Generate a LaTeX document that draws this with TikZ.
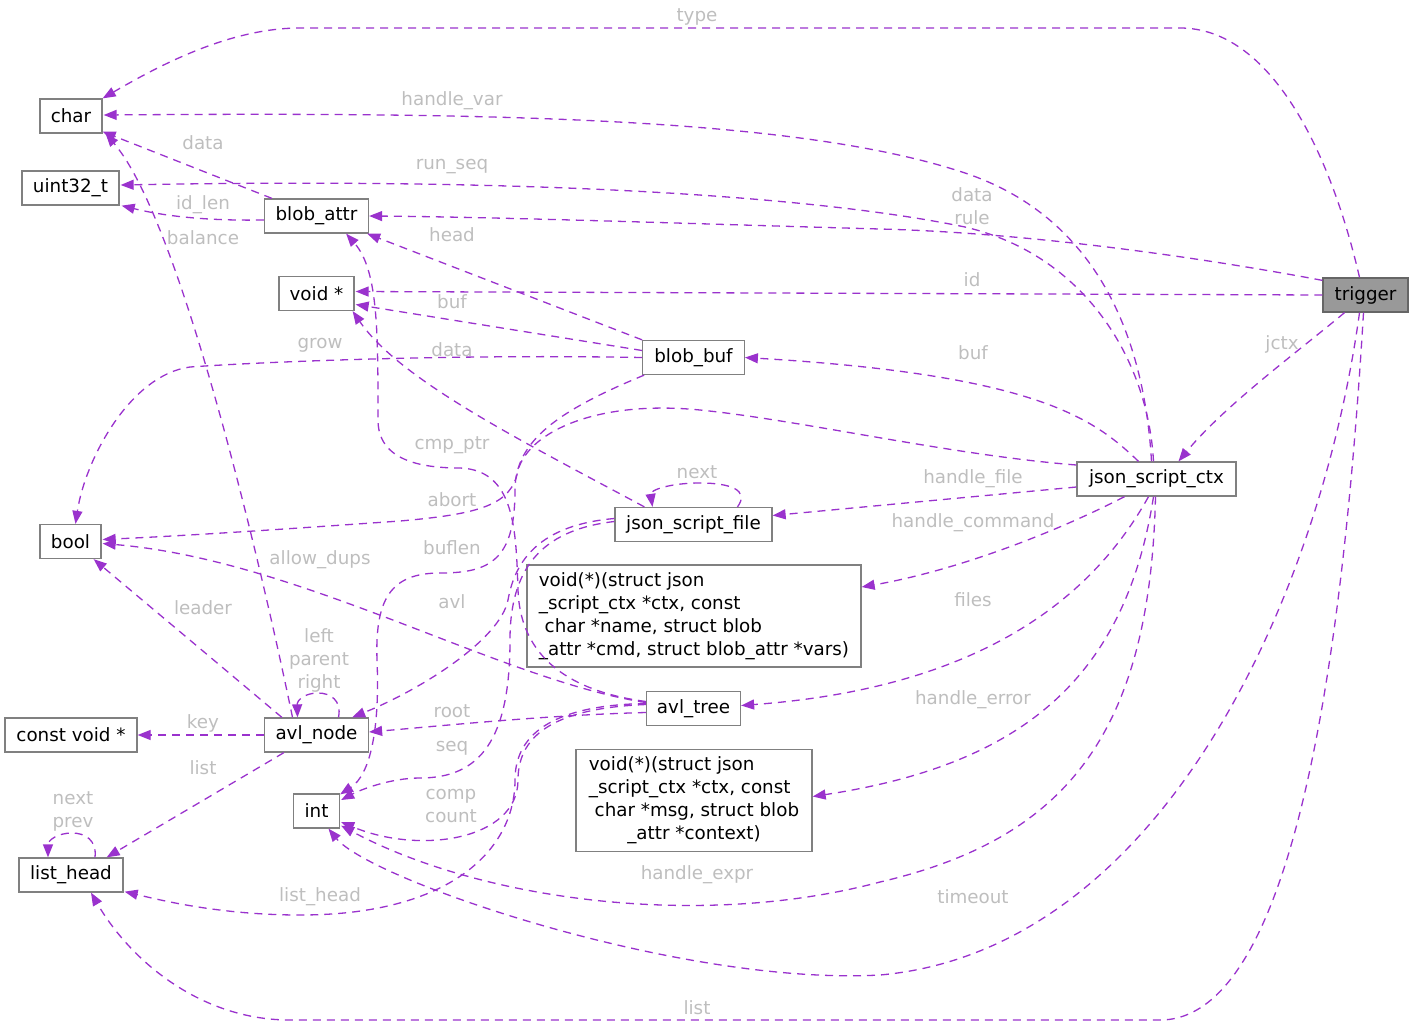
\documentclass[tikz,border=0pt]{standalone}
\usepackage{fontspec}
\setmainfont{DejaVu Sans}
\usetikzlibrary{arrows.meta,calc}
\definecolor{ecol}{RGB}{154,50,205}
\definecolor{lblcol}{RGB}{190,190,190}
\definecolor{bordercol}{RGB}{128,128,128}
\definecolor{trigfill}{RGB}{153,153,153}
\definecolor{trigborder}{RGB}{102,102,102}
\newcommand{\fsz}{\fontsize{18.3}{23}\selectfont}
\tikzset{
  box/.style={draw=bordercol, line width=1.3pt, fill=white, rectangle, inner sep=0pt, minimum height=34pt, font=\fsz},
  edge/.style={draw=ecol, line width=1.3pt, dash pattern=on 8pt off 6pt, -{Triangle[length=13pt,width=10pt]}},
  lbl/.style={text=lblcol, font=\fsz, inner sep=0pt, align=center},
}
\begin{document}
\begin{tikzpicture}[x=1pt,y=-1pt]
\useasboundingbox (0,0) rectangle (1413,1026);
% ---------- nodes ----------
\node[box, minimum width=62pt] (char) at (71,116) {char};
\node[box, minimum width=97pt] (uint) at (70.5,188) {uint32\_t};
\node[box, minimum width=104pt] (battr) at (316.5,216) {blob\_attr};
\node[box, minimum width=75pt] (voidp) at (316.5,293.5) {void *};
\node[box, minimum width=101.5pt] (bbuf) at (693.5,357.5) {blob\_buf};
\node[box, minimum width=61pt] (bool) at (70.5,541.5) {bool};
\node[box, minimum width=157pt] (jsf) at (693.5,524.5) {json\_script\_file};
\node[box, minimum width=334pt, minimum height=102pt] (hcmd) at (694,616) {\begin{tabular}{@{}l@{}}void(*)(struct json\\ \_script\_ctx *ctx, const\\ \ char *name, struct blob\\ \_attr *cmd, struct blob\_attr *vars)\end{tabular}};
\node[box, minimum width=159pt] (ctx) at (1156.5,479) {json\_script\_ctx};
\node[box, fill=trigfill, draw=trigborder, minimum width=85pt] (trigger) at (1365.5,295) {trigger};
\node[box, minimum width=104pt] (anode) at (316.5,735) {avl\_node};
\node[box, minimum width=132pt] (cvoid) at (71,735) {const void *};
\node[box, minimum width=94pt] (atree) at (693.5,708.5) {avl\_tree};
\node[box, minimum width=46pt] (intn) at (316.5,811) {int};
\node[box, minimum width=236pt, minimum height=102pt] (herr) at (694,800.5) {\begin{tabular}{@{}l@{}}void(*)(struct json\\ \_script\_ctx *ctx, const\\ \ char *msg, struct blob\\ \multicolumn{1}{@{}c@{}}{\_attr *context)}\end{tabular}};
\node[box, minimum width=104pt] (lhead) at (71,875) {list\_head};
% ---------- edges from trigger ----------
\draw[edge] ($(trigger.north)+(-6,0)$) .. controls (1330,150) and (1270,28) .. (1180,28) -- (300,28) .. controls (230,28) and (160,65) .. (char.north east);
\draw[edge] ($(trigger.north west)+(0,3)$) .. controls (1160,250) and (1000,232) .. (880,229) .. controls (700,224) and (500,217) .. (battr.east);
\draw[edge] (trigger.west) -- ($(voidp.east)+(1,-2)$);
\draw[edge] ($(trigger.south)+(-21,0)$) .. controls (1300,350) and (1225,405) .. ($(ctx.north)+(22,0)$);
\draw[edge] ($(trigger.south)+(-6,0)$) .. controls (1320,600) and (1160,950) .. (880,975) .. controls (680,986) and (370,880) .. ($(intn.south)+(12,0)$);
\draw[edge] ($(trigger.south)+(-2,0)$) .. controls (1345,620) and (1300,1020) .. (1160,1020) -- (290,1020) .. controls (200,1020) and (130,960) .. ($(lhead.south)+(20,0)$);
% ---------- edges from json_script_ctx ----------
\draw[edge] ($(ctx.north)+(-5,0)$) .. controls (1145,350) and (1105,220) .. (965,173) .. controls (800,118) and (500,112) .. ($(char.east)+(1,-1)$);
\draw[edge] ($(ctx.north)+(-3,0)$) .. controls (1148,360) and (1085,255) .. (965,227) .. controls (800,193) and (500,178) .. ($(uint.east)+(1,-3)$);
\draw[edge] ($(ctx.north)+(-18,0)$) .. controls (1095,420) and (1040,375) .. (bbuf.east);
\draw[edge] ($(ctx.west)+(0,-14)$) .. controls (950,455) and (800,420) .. (700,410) .. controls (600,400) and (530,430) .. (518,470) .. controls (512,505) and (480,514) .. (400,521) .. controls (300,528) and (200,535) .. ($(bool.east)+(1,-2)$);
\draw[edge] ($(ctx.west)+(0,8)$) -- ($(jsf.east)+(0,-9)$);
\draw[edge] ($(ctx.south)+(-32,0)$) .. controls (1060,530) and (960,570) .. ($(hcmd.east)+(0,-29)$);
\draw[edge] ($(ctx.south)+(-8,0)$) .. controls (1080,620) and (950,690) .. ($(atree.east)+(0,-3)$);
\draw[edge] ($(ctx.south)+(-3,0)$) .. controls (1125,680) and (1020,765) .. ($(herr.east)+(0,-4)$);
\draw[edge] ($(ctx.south)+(-1,0)$) .. controls (1150,740) and (1060,840) .. (880,882) .. controls (700,930) and (480,900) .. ($(intn.south east)+(1,-3)$);
% ---------- edges from blob_attr ----------
\draw[edge] ($(battr.north west)+(8,0)$) -- ($(char.south east)+(0,-2)$);
\draw[edge] ($(battr.west)+(0,4)$) .. controls (200,221) and (160,215) .. ($(uint.south east)+(2,0)$);
% ---------- edges from blob_buf ----------
\draw[edge] (bbuf.north west) -- ($(battr.south east)+(-2,0)$);
\draw[edge] ($(bbuf.west)+(0,-7)$) -- ($(voidp.east)+(1,11)$);
\draw[edge] (bbuf.west) .. controls (450,354) and (260,362) .. (190,367) .. controls (130,375) and (85,460) .. ($(bool.north)+(5,0)$);
\draw[edge] ($(bbuf.south west)+(2,0)$) .. controls (560,410) and (515,440) .. (515,490) .. controls (515,560) and (490,573) .. (440,573) .. controls (390,573) and (375,600) .. (377,660) .. controls (380,730) and (370,775) .. ($(intn.north east)+(0,1)$);
% ---------- edges from json_script_file ----------
\draw[edge] ($(jsf.north west)+(30,0)$) .. controls (520,440) and (400,380) .. ($(voidp.south east)+(-2,0)$);
\draw[edge] ($(jsf.north)+(44,0)$) .. controls (750,490) and (730,483) .. (700,483) .. controls (670,483) and (650,490) .. ($(jsf.north)+(-41,0)$);
\draw[edge] ($(jsf.west)+(0,-6)$) .. controls (540,525) and (515,560) .. (508,600) .. controls (500,640) and (420,690) .. ($(anode.north east)+(-17,0)$);
\draw[edge] ($(jsf.west)+(0,-3)$) .. controls (540,530) and (510,570) .. (510,640) .. controls (510,740) and (480,778) .. (420,778) .. controls (390,778) and (360,790) .. ($(intn.east)+(1,-11)$);
% ---------- edges from avl_tree ----------
\draw[edge] ($(atree.west)+(0,-7)$) .. controls (560,690) and (520,650) .. (518,590) .. controls (516,530) and (515,470) .. (460,468) .. controls (420,468) and (378,460) .. (378,420) .. controls (378,330) and (378,270) .. ($(battr.south east)+(-23,0)$);
\draw[edge] ($(atree.west)+(0,-6)$) .. controls (500,680) and (300,560) .. ($(bool.east)+(1,2)$);
\draw[edge] ($(atree.west)+(0,4)$) .. controls (550,715) and (450,725) .. ($(anode.east)+(0,-3)$);
\draw[edge] ($(atree.west)+(0,-4)$) .. controls (560,708) and (518,732) .. (518,780) .. controls (518,840) and (420,855) .. ($(intn.east)+(1,11)$);
\draw[edge] ($(atree.west)+(0,-5)$) .. controls (560,705) and (515,730) .. (515,780) .. controls (515,850) and (450,915) .. (300,915) .. controls (220,915) and (160,900) .. ($(lhead.south east)+(1,-1)$);
% ---------- edges from avl_node ----------
\draw[edge] ($(anode.north)+(-24,0)$) .. controls (260,560) and (180,220) .. ($(char.south east)+(3,0)$);
\draw[edge] ($(anode.north)+(22,0)$) .. controls (342,700) and (330,693) .. (318,693) .. controls (305,693) and (297,700) .. ($(anode.north)+(-19,0)$);
\draw[edge] ($(anode.north west)+(18,0)$) -- ($(bool.south east)+(-8,0)$);
\draw[edge] (anode.west) -- (cvoid.east);
\draw[edge] ($(anode.south west)+(20,0)$) -- ($(lhead.north east)+(-17,0)$);
% ---------- list_head self loop ----------
\draw[edge] ($(lhead.north)+(24,0)$) .. controls (97,840) and (85,833) .. (72,833) .. controls (58,833) and (48,840) .. ($(lhead.north)+(-23,0)$);
% ---------- labels ----------
\node[lbl] (Ltype) at (697,17) {type};
\node[lbl] (Lhvar) at (452,101) {handle\_var};
\node[lbl] (Lrunseq) at (452,167) {run\_seq};
\node[lbl] (Ldatarule) at (972,206.5) {data\\rule};
\node[lbl] (Ldata1) at (203,143) {data};
\node[lbl] (Lidlen) at (203,205) {id\_len};
\node[lbl] (Lbalance) at (203,238) {balance};
\node[lbl] (Lhead) at (452,235) {head};
\node[lbl] (Lid) at (972,280) {id};
\node[lbl] (Lbuf1) at (452,302) {buf};
\node[lbl] (Lgrow) at (320,345) {grow};
\node[lbl] (Ldata2) at (452,350) {data};
\node[lbl] (Lbuf2) at (973,353) {buf};
\node[lbl] (Ljctx) at (1282,344) {jctx};
\node[lbl] (Lcmp) at (452,445) {cmp\_ptr};
\node[lbl] (Lnext1) at (697,472) {next};
\node[lbl] (Lhfile) at (973,479) {handle\_file};
\node[lbl] (Labort) at (452,500) {abort};
\node[lbl] (Lhcmd) at (973,523) {handle\_command};
\node[lbl] (Lbuflen) at (452,548) {buflen};
\node[lbl] (Ldups) at (320,560) {allow\_dups};
\node[lbl] (Lavl) at (452,602) {avl};
\node[lbl] (Lfiles) at (973,600) {files};
\node[lbl] (Lleader) at (203,608) {leader};
\node[lbl] (Llpr) at (319,660) {left\\parent\\right};
\node[lbl] (Lherr) at (973,700) {handle\_error};
\node[lbl] (Lkey) at (203,723) {key};
\node[lbl] (Lroot) at (452,711) {root};
\node[lbl] (Lseq) at (452,748) {seq};
\node[lbl] (Llist1) at (203,768) {list};
\node[lbl] (Lcomp) at (451,805.5) {comp\\count};
\node[lbl] (Lnp) at (73,811.5) {next\\prev};
\node[lbl] (Lhexpr) at (697,875) {handle\_expr};
\node[lbl] (Ltimeout) at (973,897) {timeout};
\node[lbl] (Llhead) at (320,897) {list\_head};
\node[lbl] (Llist2) at (697,1008) {list};
\end{tikzpicture}
\end{document}
